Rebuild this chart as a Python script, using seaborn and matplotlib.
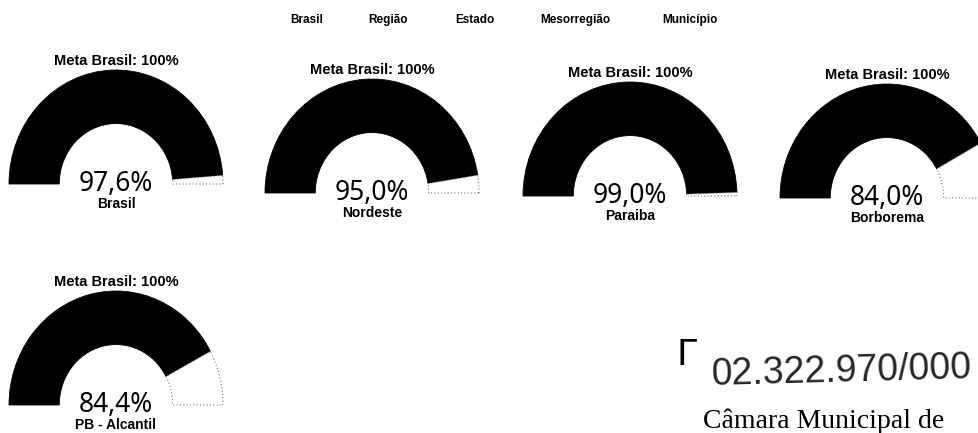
"""Gauge panel: cobertura vs Meta Brasil"""

import matplotlib
matplotlib.use('Agg')
import matplotlib.pyplot as plt
import seaborn as sns

# data
values = [97.6, 95.0, 99.0, 84.0, 84.4]
labels = ['Brasil', 'Nordeste', 'Paraiba', 'Borborema', 'PB - Alcantil']
meta_text = 'Meta Brasil: 100%'
legend_items = ['Brasil', 'Região', 'Estado', 'Mesorregião', 'Município']
doc_number = '02.322.970/000'
doc_footer = 'Câmara Municipal de'

# layout (pixels)
W, H = 979, 433
RH, RV = 107, 114
centers_x = [116, 372, 630, 887, 116]
baselines = [184, 193, 196, 198, 405]
legend_x = [290, 368, 455, 540, 662]

sns.set_theme(style='white')
plt.rcParams['font.family'] = ['Noto Sans', 'DejaVu Sans']

fig = plt.figure(figsize=(W / 100, H / 100), dpi=100)
fig.patch.set_facecolor('white')

for v, lab, cx, base in zip(values, labels, centers_x, baselines):
    rect = [(cx - 1.15 * RH) / W, 1 - (base + 0.4 * RV) / H,
            2.3 * RH / W, 1.7 * RV / H]
    ax = fig.add_axes(rect)
    wedges, _ = ax.pie([v, 100 - v, 100], startangle=180, counterclock=False,
                       radius=1, wedgeprops=dict(width=0.47))
    wedges[0].set(facecolor='black', edgecolor='black', linewidth=0.6)
    wedges[1].set(facecolor='white', edgecolor='0.45',
                  linestyle=(0, (1, 2)), linewidth=0.8)
    wedges[2].set_visible(False)
    ax.set_aspect('auto')
    ax.set_xlim(-1.15, 1.15)
    ax.set_ylim(-0.4, 1.3)
    ax.axis('off')

    ax.text(0, 1 + 9 / RV, meta_text, ha='center', va='center',
            fontsize=10.5, fontweight='bold', family='Liberation Sans',
            color='black')
    ax.text(0, 0.0, f'{v:.1f}'.replace('.', ',') + '%', ha='center',
            va='center', fontsize=19, color='black')
    ax.text(0, -20 / RV, lab, ha='center', va='center', fontsize=10,
            fontweight='bold', family='Liberation Sans', color='black')

# legend labels along the top
for x, name in zip(legend_x, legend_items):
    fig.text(x / W, 1 - 20 / H, name, ha='left', va='center', fontsize=8.5,
             fontweight='bold', family='Liberation Sans', color='black')

# scanned document remnants
fig.text(677 / W, 1 - 355 / H, 'Γ', ha='left', va='center', fontsize=26,
         family='DejaVu Sans', color='black')
fig.text(712 / W, 1 - 385 / H, doc_number, ha='left', va='baseline',
         fontsize=27, rotation=1.5, family='Liberation Sans', color='0.15',
         rotation_mode='anchor')
fig.text(703 / W, 1 - 428 / H, doc_footer, ha='left', va='baseline',
         fontsize=20, family='Liberation Serif', color='black')

fig.savefig('out.png', dpi=100)
